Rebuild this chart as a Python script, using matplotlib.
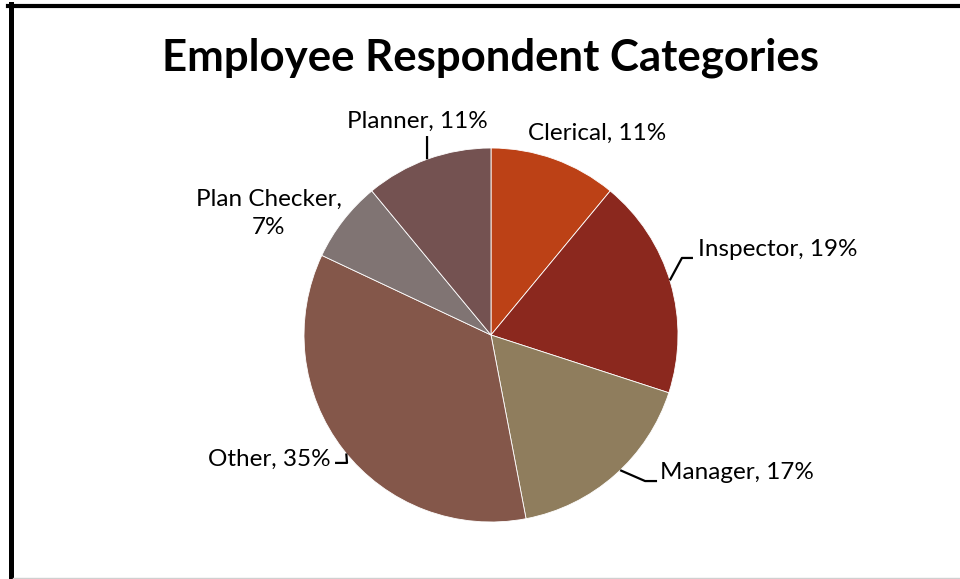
import matplotlib
matplotlib.use("Agg")
import matplotlib.pyplot as plt
import numpy as np
from matplotlib.lines import Line2D

plt.rcParams['font.family'] = ['Lato', 'DejaVu Sans']

categories = ["Clerical", "Inspector", "Manager", "Other", "Plan Checker", "Planner"]
values = [11, 19, 17, 35, 7, 11]
colors = ["#BC4116", "#8B281E", "#8F7D5D", "#84574A", "#807473", "#745251"]

W, H = 960, 579
fig = plt.figure(figsize=(W / 100, H / 100), dpi=100)

# pie area in pixels: centre (491,335), radius 187
cx, cy, r = 491, 335, 187
ax = fig.add_axes([(cx - r) / W, (H - cy - r) / H, 2 * r / W, 2 * r / H])
wedges, _ = ax.pie(values, colors=colors, startangle=90, counterclock=False,
                   radius=1, wedgeprops=dict(linewidth=0.6, edgecolor="white"))
ax.set_xlim(-1, 1)
ax.set_ylim(-1, 1)
ax.set_aspect("equal")
ax.axis("off")

# label text positions (data units), leader: (edge angle, elbow pt, end pt)
labels = [f"{c}, {v}%" for c, v in zip(categories, values)]
labels[4] = "Plan Checker,\n7%"
label_pos = [(0.567, 1.08, "center"), (1.105, 0.455, "left"), (0.905, -0.735, "left"),
             (-0.855, -0.665, "right"), (-1.19, 0.65, "center"), (-0.396, 1.14, "center")]
leaders = {
    1: (17, (1.021, 0.412), (1.08, 0.412)),
    2: (-46.3, (0.824, -0.781), (0.888, -0.781)),
    3: (219.3, (-0.770, -0.684), (-0.834, -0.684)),
    5: (110, (-0.342, 1.064), (-0.342, 1.064)),
}
for i, (txt, (x, y, ha)) in enumerate(zip(labels, label_pos)):
    ax.text(x, y, txt, ha=ha, va="center", fontsize=17.5, color="black",
            linespacing=1.45)
    if i in leaders:
        ang, elbow, end = leaders[i]
        a = np.deg2rad(ang)
        ax.plot([np.cos(a), elbow[0], end[0]], [np.sin(a), elbow[1], end[1]],
                color="black", lw=1.6, clip_on=False, solid_capstyle="butt")

fig.text(cx / W, 1 - 58 / H, "Employee Respondent Categories", ha="center",
         va="center", fontsize=31.5, fontweight="bold")

# frame
fig.add_artist(Line2D([8 / W, 1], [1 - 6 / H, 1 - 6 / H], color="black", lw=3))
fig.add_artist(Line2D([10.5 / W, 10.5 / W], [0, 1 - 4 / H], color="black", lw=3.6))
fig.add_artist(Line2D([13 / W, 1], [1.5 / H, 1.5 / H], color="#D0D0D0", lw=1))

fig.savefig("out.png", dpi=100)
